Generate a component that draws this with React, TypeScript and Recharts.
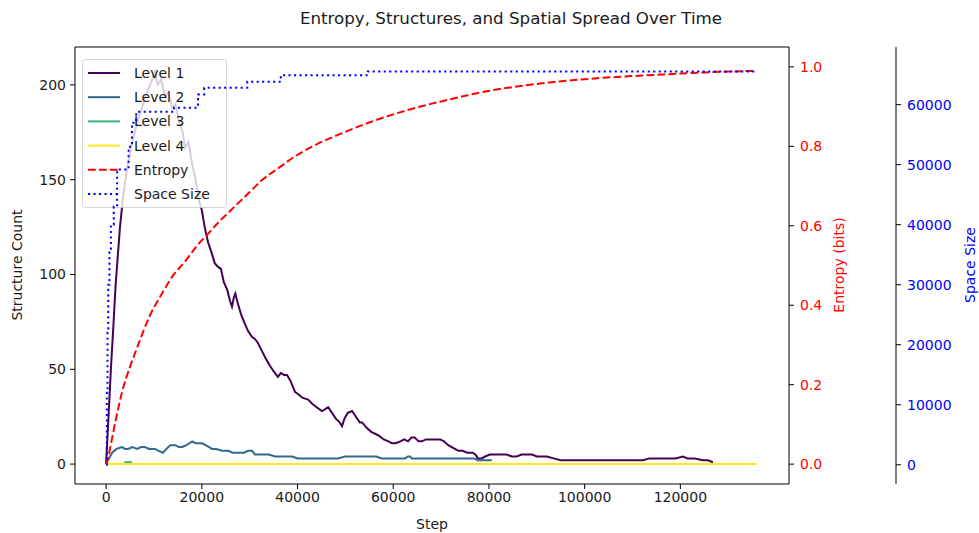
import React from 'react';
import { LineChart, Line, XAxis, YAxis, Customized, ReferenceLine } from 'recharts';

// ---- tick labels ----
const stepTicks = [0, 20000, 40000, 60000, 80000, 100000, 120000];
const countTicks = [0, 50, 100, 150, 200];
const entropyTicks = [0, 0.2, 0.4, 0.6, 0.8, 1.0];
const spaceTicks = [0, 10000, 20000, 30000, 40000, 50000, 60000];

// ---- series: [step, value] ----
const level1Points: number[][] = [
  [0, 0], [500, 25], [1000, 50], [1500, 72], [2000, 95], [2900, 125], [3500, 140], [4500, 158],
  [5500, 170], [6500, 180], [7500, 188], [8500, 196], [9500, 202], [10200, 207], [10800, 200],
  [11500, 203], [12300, 194], [13000, 196], [13800, 188], [14500, 190], [15300, 180], [16000, 175],
  [16500, 167], [17200, 170], [18000, 158], [18700, 150], [19300, 140], [20000, 134], [20600, 125],
  [21300, 117], [22100, 111], [22700, 106], [23400, 104], [24000, 103], [24600, 96], [25300, 92],
  [25900, 86], [26300, 83], [26700, 88], [27000, 90], [27500, 85], [28200, 79], [29000, 74],
  [29700, 70], [30500, 67], [31100, 66], [31700, 64], [32500, 60], [33300, 56], [34200, 52],
  [35000, 49], [35900, 46], [36500, 48], [37200, 47], [37800, 47], [38500, 44], [39500, 38],
  [40100, 37], [41000, 35], [42200, 34], [43000, 32], [44000, 30], [45100, 28], [45800, 29],
  [46400, 30], [47200, 27], [48000, 24], [48800, 22], [49300, 20], [49800, 24], [50500, 27],
  [51400, 28], [52200, 25], [53000, 22], [53500, 22], [54500, 19], [55400, 17], [56200, 16],
  [57000, 15], [58000, 13], [59000, 12], [59700, 11], [60500, 11], [61500, 12], [62300, 13],
  [63100, 12], [63800, 14], [64500, 14], [65300, 12], [66000, 12], [66800, 13], [67500, 13],
  [68100, 13], [69000, 13], [69800, 13], [70600, 12], [71500, 10], [72200, 9], [72900, 8],
  [73600, 7], [74500, 7], [75500, 6], [76600, 6], [77200, 5], [77700, 3], [78500, 3], [79200, 4],
  [80200, 5], [81500, 5], [82500, 5], [83700, 5], [84800, 4], [85800, 4], [86800, 5], [87900, 5],
  [89000, 5], [90000, 4], [91000, 4], [92100, 4], [93500, 3], [95000, 2], [96200, 2], [98000, 2],
  [100600, 2], [103000, 2], [105200, 2], [107000, 2], [108800, 2], [110500, 2], [112200, 2],
  [113500, 3], [115100, 3], [117000, 3], [119000, 3], [120500, 4], [121500, 3], [123000, 3],
  [124700, 2], [125800, 2], [126800, 1],
];

const level2Points: number[][] = [
  [0, 0], [600, 3], [1250, 6], [2200, 8], [3300, 9], [4000, 8], [4600, 8], [5500, 9], [6500, 8],
  [7300, 9], [8100, 9], [9000, 8], [10200, 8], [11000, 7], [11900, 6], [12600, 8], [13400, 10],
  [14500, 10], [15200, 9], [15900, 9], [16800, 10], [17400, 11], [18000, 12], [18700, 11],
  [19300, 11], [20000, 11], [20800, 10], [21500, 9], [22100, 8], [23000, 8], [24200, 7],
  [25500, 7], [26500, 6], [27600, 6], [28800, 6], [29700, 7], [30500, 7], [31100, 5], [32500, 5],
  [34000, 5], [35300, 4], [37000, 4], [38900, 4], [40000, 3], [42000, 3], [45100, 3], [47000, 3],
  [48500, 3], [49900, 4], [51000, 4], [52600, 4], [54500, 4], [56500, 4], [57500, 3], [58900, 3],
  [61000, 3], [62500, 3], [63100, 4], [63500, 4], [63900, 3], [66000, 3], [70000, 3], [74000, 3],
  [77000, 3], [77600, 2], [79000, 2], [80600, 2],
];

const level3Points: number[][] = [
  [0, 0], [3800, 0], [4000, 1], [5200, 1], [5400, 0], [60000, 0],
];

const level4Points: number[][] = [
  [0, 0], [135900, 0],
];

const entropyPoints: number[][] = [
  [0, 0], [400, 0.015], [1000, 0.05], [2000, 0.11], [3300, 0.18], [5000, 0.245], [6700, 0.3],
  [9000, 0.37], [11700, 0.43], [14000, 0.475], [16500, 0.51], [19000, 0.55], [21300, 0.58],
  [24000, 0.615], [27000, 0.65], [30000, 0.685], [32600, 0.715], [36000, 0.745], [39500, 0.775],
  [44000, 0.805], [49500, 0.834], [55000, 0.86], [62900, 0.891], [70000, 0.913], [80200, 0.94],
  [90000, 0.957], [101100, 0.97], [115100, 0.98], [125000, 0.986], [135900, 0.99],
];

const spacePoints: number[][] = [
  [0, 0], [150, 12000], [300, 22000], [450, 30000], [700, 36000], [1000, 40000], [1600, 43000],
  [2300, 49200], [4700, 53000], [5400, 57000], [6300, 58800], [14200, 59500], [19200, 61700],
  [20500, 62800], [29500, 63800], [36500, 64900], [54700, 65536], [135900, 65536],
];

const toRows = (pts: number[][]) => pts.map(([step, v]) => ({ step, v }));

const seriesNames = ['Level 1', 'Level 2', 'Level 3', 'Level 4', 'Entropy', 'Space Size'];
const seriesColors = ['#440154', '#31688e', '#35b779', '#fde725', '#ff0000', '#0000ff'];
const seriesDash = ['', '', '', '', '7.7 3.3', '2.1 3.4'];

const FONT = 'DejaVu Sans, sans-serif';
const TICK_FS = 14;
const LW = 2;
const W = 979;
const H = 533;
const MARGIN = { top: 47, right: 0, bottom: 0, left: 0 };
const X_DOMAIN: [number, number] = [-6500, 142700];
const COUNT_DOMAIN: [number, number] = [-10.5, 220];
const ENTROPY_DOMAIN: [number, number] = [-0.05, 1.05];
const SPACE_DOMAIN: [number, number] = [-3200, 69600];

const LegendBox = () => (
  <g>
    <rect x={82.5} y={59.5} width={144} height={148} rx={3} ry={3}
      fill="#ffffff" fillOpacity={0.8} stroke="#cccccc" strokeOpacity={0.8} />
    {seriesNames.map((name, i) => {
      const y = 73 + 24.2 * i;
      return (
        <g key={name}>
          <line x1={88} x2={120} y1={y} y2={y} stroke={seriesColors[i]} strokeWidth={LW}
            strokeDasharray={seriesDash[i] || undefined} />
          <text x={134} y={y} dy="0.36em" fontSize={TICK_FS} fontFamily={FONT} fill="#1a1a1a">{name}</text>
        </g>
      );
    })}
  </g>
);

const Titles = () => (
  <g fontFamily={FONT}>
    <text x={511} y={18} textAnchor="middle" dominantBaseline="central" fontSize={16.7} fill="#1a1a1a">
      Entropy, Structures, and Spatial Spread Over Time
    </text>
    <text x={432} y={524} textAnchor="middle" dominantBaseline="central" fontSize={TICK_FS} fill="#1a1a1a">Step</text>
    <text x={17} y={265} textAnchor="middle" dominantBaseline="central" fontSize={TICK_FS} fill="#1a1a1a"
      transform="rotate(-90 17 265)">Structure Count</text>
    <text x={839} y={265} textAnchor="middle" dominantBaseline="central" fontSize={TICK_FS} fill="#ff0000"
      transform="rotate(-90 839 265)">Entropy (bits)</text>
    <text x={970} y={265} textAnchor="middle" dominantBaseline="central" fontSize={TICK_FS} fill="#0000ff"
      transform="rotate(-90 970 265)">Space Size</text>
  </g>
);

// Axes set; `show` = false keeps identical geometry but draws nothing (for the overlay chart)
const axes = (show: boolean) => {
  const line = show ? { stroke: '#000' } : false;
  return [
    <XAxis key="xm" xAxisId="main" type="number" dataKey="step" domain={X_DOMAIN} allowDataOverflow
      ticks={stepTicks} interval={0} height={49} tickSize={5} tickMargin={3}
      axisLine={line} tickLine={line}
      tick={show ? { fill: '#1a1a1a', fontSize: TICK_FS, fontFamily: FONT } : false} />,
    <YAxis key="yc" yAxisId="count" type="number" domain={COUNT_DOMAIN} allowDataOverflow ticks={countTicks}
      interval={0} width={75} tickSize={5} tickMargin={4} axisLine={line} tickLine={line}
      tick={show ? { fill: '#1a1a1a', fontSize: TICK_FS, fontFamily: FONT } : false} />,
    <YAxis key="ye" yAxisId="entropy" orientation="right" type="number" domain={ENTROPY_DOMAIN}
      allowDataOverflow ticks={entropyTicks} interval={0} width={107} tickSize={5} tickMargin={6}
      tickFormatter={(v: number) => v.toFixed(1)} axisLine={line} tickLine={line}
      tick={show ? { fill: '#ff0000', fontSize: TICK_FS, fontFamily: FONT } : false} />,
    <YAxis key="ys" yAxisId="space" orientation="right" type="number" domain={SPACE_DOMAIN}
      allowDataOverflow ticks={spaceTicks} interval={0} width={83} tickSize={5} tickMargin={6}
      axisLine={line} tickLine={line}
      tick={show ? { fill: '#0000ff', fontSize: TICK_FS, fontFamily: FONT } : false} />,
  ];
};

export default function App() {
  return (
    <div style={{ position: 'absolute', left: 0, top: 0, width: W, height: H, background: '#fff' }}>
      {/* base chart: axes + structure levels */}
      <div style={{ position: 'absolute', left: 0, top: 0 }}>
        <LineChart width={W} height={H} margin={MARGIN} style={{ fontFamily: FONT }}>
          {axes(true)}
          {/* top spine of the axes frame */}
          <ReferenceLine xAxisId="main" yAxisId="count" y={COUNT_DOMAIN[1]} stroke="#000" strokeWidth={1} />
          <Line xAxisId="main" yAxisId="count" data={toRows(level1Points)} dataKey="v" name={seriesNames[0]}
            stroke={seriesColors[0]} strokeWidth={LW} dot={false} isAnimationActive={false} type="linear" />
          <Line xAxisId="main" yAxisId="count" data={toRows(level2Points)} dataKey="v" name={seriesNames[1]}
            stroke={seriesColors[1]} strokeWidth={LW} dot={false} isAnimationActive={false} type="linear" />
          <Line xAxisId="main" yAxisId="count" data={toRows(level3Points)} dataKey="v" name={seriesNames[2]}
            stroke={seriesColors[2]} strokeWidth={LW} dot={false} isAnimationActive={false} type="linear" />
          <Line xAxisId="main" yAxisId="count" data={toRows(level4Points)} dataKey="v" name={seriesNames[3]}
            stroke={seriesColors[3]} strokeWidth={LW} dot={false} isAnimationActive={false} type="linear" />
          <Customized component={Titles} />
        </LineChart>
      </div>
      {/* overlay chart: legend, then entropy and space size drawn over it */}
      <div style={{ position: 'absolute', left: 0, top: 0 }}>
        <LineChart width={W} height={H} margin={MARGIN} style={{ fontFamily: FONT }}>
          {axes(false)}
          <Customized component={LegendBox} />
          <Line xAxisId="main" yAxisId="entropy" data={toRows(entropyPoints)} dataKey="v" name={seriesNames[4]}
            stroke={seriesColors[4]} strokeWidth={LW} strokeDasharray={seriesDash[4]} dot={false}
            isAnimationActive={false} type="monotone" />
          <Line xAxisId="main" yAxisId="space" data={toRows(spacePoints)} dataKey="v" name={seriesNames[5]}
            stroke={seriesColors[5]} strokeWidth={LW} strokeDasharray={seriesDash[5]} dot={false}
            isAnimationActive={false} type="stepAfter" />
        </LineChart>
      </div>
    </div>
  );
}
